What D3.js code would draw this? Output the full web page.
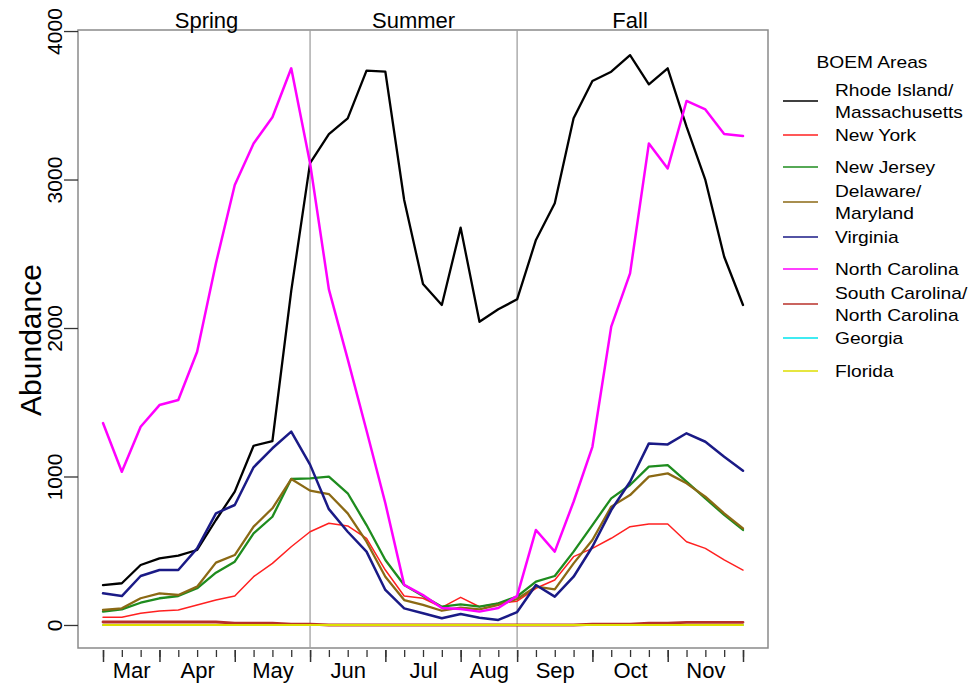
<!DOCTYPE html>
<html>
<head>
<meta charset="utf-8">
<script src="https://cdn.jsdelivr.net/npm/d3@7"></script>
<style>
  body { margin: 0; background: #fff; }
  svg { font-family: "Liberation Sans", Arial, sans-serif; }
</style>
</head>
<body>
<svg id="chart" width="974" height="687"></svg>
<script>
// months along the x axis and number of weekly samples in each
var months = ["Mar", "Apr", "May", "Jun", "Jul", "Aug", "Sep", "Oct", "Nov"];
var weeksInMonth = [3, 4, 4, 4, 4, 3, 4, 4, 4];
var seasons = ["Spring", "Summer", "Fall"];
var seasonBreaks = [0, 11, 22, 34];   // week index of season boundaries
var yTicks = [0, 1000, 2000, 3000, 4000];

var areas = ["Rhode Island/\nMassachusetts", "New York", "New Jersey", "Delaware/\nMaryland",
             "Virginia", "North Carolina", "South Carolina/\nNorth Carolina", "Georgia", "Florida"];

// abundance per week (35 weeks, early Mar to end of Nov)
var riMa = [269, 281, 404, 449, 467, 505, 707, 898, 1207, 1239, 2250, 3110, 3306, 3412, 3733, 3726, 2862, 2296,
            2155, 2676, 2042, 2126, 2193, 2593, 2840, 3412, 3663, 3726, 3838, 3641, 3749, 3356, 2997, 2480, 2155];
var newYork = [52, 52, 79, 94, 101, 135, 168, 195, 325, 415, 527, 628, 685, 667, 584, 370, 195, 180,
               119, 186, 123, 146, 160, 247, 303, 460, 516, 584, 662, 680, 680, 561, 516, 438, 370];
var newJersey = [90, 105, 150, 180, 195, 247, 352, 426, 617, 729, 983, 988, 999, 887, 673, 438, 269, 195,
                 123, 139, 123, 146, 192, 292, 330, 494, 673, 853, 943, 1066, 1077, 965, 853, 741, 640];
var deMd = [101, 112, 180, 213, 202, 258, 420, 471, 662, 786, 983, 905, 882, 752, 561, 325, 168, 135,
            96, 117, 105, 135, 175, 258, 240, 415, 572, 797, 875, 999, 1021, 954, 864, 752, 651];
var virginia = [213, 195, 330, 370, 370, 516, 752, 808, 1062, 1190, 1302, 1080, 780, 628, 494, 236, 112, 79,
                45, 74, 49, 34, 87, 269, 191, 325, 527, 774, 965, 1223, 1216, 1291, 1234, 1133, 1039];
var northCarolina = [1360, 1032, 1335, 1481, 1515, 1840, 2436, 2963, 3243, 3419, 3749, 3110, 2260, 1790, 1310, 820, 270, 202,
                     114, 108, 90, 114, 196, 640, 494, 830, 1200, 2009, 2368, 3243, 3075, 3529, 3472, 3306, 3293];
var scNc = [20, 20, 20, 20, 20, 20, 20, 12, 12, 12, 6, 6, 0, 0, 0, 0, 0, 0,
            0, 0, 0, 0, 0, 0, 0, 0, 5, 5, 5, 12, 12, 18, 18, 18, 18];
var georgia = [0, 0, 0, 0, 0, 0, 0, 0, 0, 0, 0, 0, 0, 0, 0, 0, 0, 0,
               0, 0, 0, 0, 0, 0, 0, 0, 0, 0, 0, 0, 0, 0, 0, 0, 0];
var florida = [0, 0, 0, 0, 0, 0, 0, 0, 0, 0, 0, 0, 0, 0, 0, 0, 0, 0,
               0, 0, 0, 0, 0, 0, 0, 0, 0, 0, 0, 0, 0, 0, 0, 0, 0];

var seriesValues = [riMa, newYork, newJersey, deMd, virginia, northCarolina, scNc, georgia, florida];
var colors = ["#000000", "#ff2020", "#1e8c1e", "#8b6914", "#1a1a86", "#ff00ff", "#b8302a", "#00e5ee", "#dede00"];
var widths = [2.3, 1.5, 2.3, 2.3, 2.5, 2.5, 2.8, 2, 2];

var svg = d3.select("#chart");
var box = {left: 78, top: 30, right: 768, bottom: 648};

var nWeeks = d3.sum(weeksInMonth);
var x = d3.scaleLinear().domain([0, nWeeks]).range([103, 743]);
var y = d3.scaleLinear().domain([-155, 4007]).range([box.bottom, box.top]);

// week index where each month starts, plus the end
var monthStarts = [0];
weeksInMonth.forEach(function(w, i) { monthStarts.push(monthStarts[i] + w); });
var monthMids = months.map(function(m, i) { return (monthStarts[i] + monthStarts[i + 1]) / 2; });

// plot frame
svg.append("rect")
  .attr("x", box.left).attr("y", box.top)
  .attr("width", box.right - box.left).attr("height", box.bottom - box.top)
  .attr("fill", "none").attr("stroke", "#8a8a8a").attr("stroke-width", 1.5);

// season dividers
svg.selectAll(".season-line")
  .data(seasonBreaks.slice(1, 3))
  .enter().append("line")
  .attr("x1", function(d) { return x(d); }).attr("x2", function(d) { return x(d); })
  .attr("y1", box.top).attr("y2", box.bottom)
  .attr("stroke", "#a0a0a0").attr("stroke-width", 1.3);

svg.selectAll(".season-label")
  .data(seasons)
  .enter().append("text")
  .attr("x", function(d, i) { return x((seasonBreaks[i] + seasonBreaks[i + 1]) / 2); })
  .attr("y", 28)
  .attr("text-anchor", "middle")
  .style("font-size", "22px")
  .text(function(d) { return d; });

// y axis
var yAxis = svg.append("g")
  .attr("transform", "translate(" + box.left + ",0)")
  .call(d3.axisLeft(y).tickValues(yTicks).tickSize(14).tickFormat(d3.format("d")));
yAxis.select(".domain").remove();
yAxis.selectAll(".tick line").attr("stroke", "#333").attr("stroke-width", 1.3);
yAxis.selectAll(".tick text")
  .attr("x", null).attr("dy", null)
  .attr("text-anchor", "middle")
  .attr("transform", "translate(-16,0) rotate(-90)")
  .attr("fill", "#000")
  .style("font-size", "21px")
  .style("font-family", "Liberation Sans, Arial, sans-serif");

svg.append("text")
  .attr("transform", "translate(41,340) rotate(-90)")
  .attr("text-anchor", "middle")
  .style("font-size", "30px")
  .text("Abundance");

// x axis: weekly minor ticks, monthly major ticks, month names centred between
var xMinor = svg.append("g")
  .attr("transform", "translate(0," + (box.bottom + 2) + ")")
  .call(d3.axisBottom(x).tickValues(d3.range(nWeeks + 1)).tickSize(7).tickFormat(""));
xMinor.select(".domain").remove();
xMinor.selectAll(".tick line").attr("stroke", "#333").attr("stroke-width", 1.3);

var xMajor = svg.append("g")
  .attr("transform", "translate(0," + (box.bottom + 2) + ")")
  .call(d3.axisBottom(x).tickValues(monthStarts).tickSize(12).tickFormat(""));
xMajor.select(".domain").remove();
xMajor.selectAll(".tick line").attr("stroke", "#333").attr("stroke-width", 1.5);

var xLabels = svg.append("g")
  .attr("transform", "translate(0," + (box.bottom + 2) + ")")
  .call(d3.axisBottom(x).tickValues(monthMids).tickSize(0).tickPadding(12)
    .tickFormat(function(d, i) { return months[i]; }));
xLabels.select(".domain").remove();
xLabels.selectAll(".tick text")
  .attr("fill", "#000")
  .style("font-size", "22px")
  .style("font-family", "Liberation Sans, Arial, sans-serif");

// series lines
var line = d3.line()
  .x(function(d, i) { return x(i); })
  .y(function(d) { return y(d); });

svg.selectAll(".area-line")
  .data(seriesValues)
  .enter().append("path")
  .attr("class", "area-line")
  .attr("d", function(d) { return line(d); })
  .attr("fill", "none")
  .attr("stroke", function(d, i) { return colors[i]; })
  .attr("stroke-width", function(d, i) { return widths[i]; })
  .attr("stroke-linejoin", "round")
  .attr("stroke-linecap", "round");

// legend
var legendY = [101, 135, 167, 202, 237, 269, 304, 338, 371];
var lg = svg.append("g");
lg.append("text")
  .attr("transform", "translate(872,68) scale(1.2,1)")
  .attr("text-anchor", "middle")
  .style("font-size", "16px")
  .text("BOEM Areas");

var item = lg.selectAll(".item")
  .data(areas)
  .enter().append("g")
  .attr("transform", function(d, i) { return "translate(0," + legendY[i] + ")"; });

item.append("line")
  .attr("x1", 783).attr("x2", 818)
  .attr("stroke", function(d, i) { return colors[i]; })
  .attr("stroke-width", 1.5);

item.each(function(d) {
  var parts = d.split("\n");
  var g = d3.select(this);
  parts.forEach(function(p, j) {
    var dy = parts.length === 1 ? 6 : (j === 0 ? -5 : 17);
    g.append("text")
      .attr("transform", "translate(835," + dy + ") scale(1.2,1)")
      .style("font-size", "16px")
      .text(p);
  });
});
</script>
</body>
</html>
